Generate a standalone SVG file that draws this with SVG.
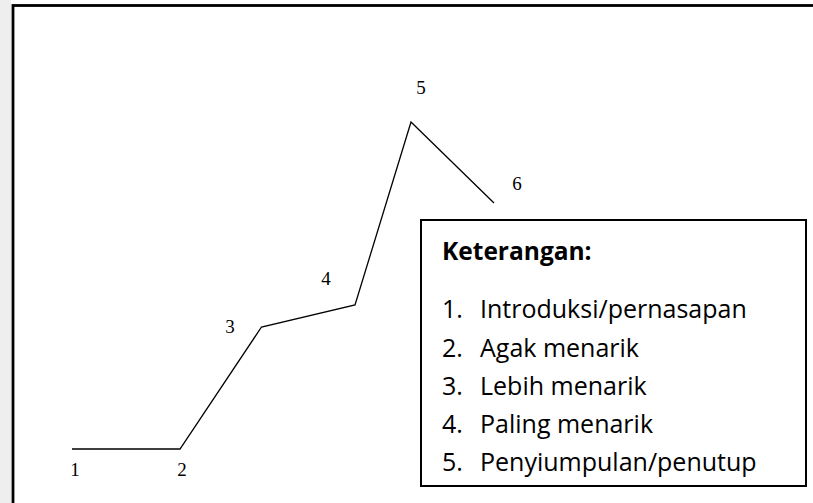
<svg xmlns="http://www.w3.org/2000/svg" width="813" height="503" viewBox="0 0 813 503">
  <style>
    .lbl { font-family: "Liberation Serif", "Times New Roman", serif; font-size: 19px; fill: #000; text-anchor: middle; }
    .key { font-family: "Open Sans", "Noto Sans", sans-serif; font-size: 25px; fill: #000; }
    .keyb { font-family: "Open Sans", "Noto Sans", sans-serif; font-size: 24.5px; font-weight: bold; fill: #000; }
    .curve { fill: none; stroke: #000; stroke-width: 1.3; stroke-linejoin: miter; }
  </style>
  <rect x="0" y="0" width="813" height="503" fill="#ffffff"/>
  <rect x="0" y="0" width="11" height="503" fill="#eeeeee"/>
  <!-- page frame -->
  <rect id="frame" x="13" y="5.5" width="820" height="520" fill="#ffffff" stroke="#000" stroke-width="2.8"/>

  <!-- story tension line -->
  <g id="connectors">
    <polyline class="curve" points="72,449 180,449 261.5,327 355,305 411,122 494,203"/>
  </g>

  <g id="point-1"><text class="lbl" x="75" y="476">1</text></g>
  <g id="point-2"><text class="lbl" x="182" y="476">2</text></g>
  <g id="point-3"><text class="lbl" x="230" y="333">3</text></g>
  <g id="point-4"><text class="lbl" x="326" y="285">4</text></g>
  <g id="point-5"><text class="lbl" x="421" y="94">5</text></g>
  <g id="point-6"><text class="lbl" x="517" y="190">6</text></g>

  <!-- legend -->
  <g id="legend">
    <rect x="421" y="220" width="385" height="266" fill="#ffffff" stroke="#000" stroke-width="2"/>
    <text class="keyb" x="442" y="260">Keterangan:</text>
    <text class="key" x="442" y="318">1.</text><text class="key" x="480" y="318">Introduksi/pernasapan</text>
    <text class="key" x="442" y="357">2.</text><text class="key" x="480" y="357">Agak menarik</text>
    <text class="key" x="442" y="395">3.</text><text class="key" x="480" y="395">Lebih menarik</text>
    <text class="key" x="442" y="433">4.</text><text class="key" x="480" y="433">Paling menarik</text>
    <text class="key" x="442" y="471">5.</text><text class="key" x="480" y="471">Penyiumpulan/penutup</text>
  </g>
</svg>
